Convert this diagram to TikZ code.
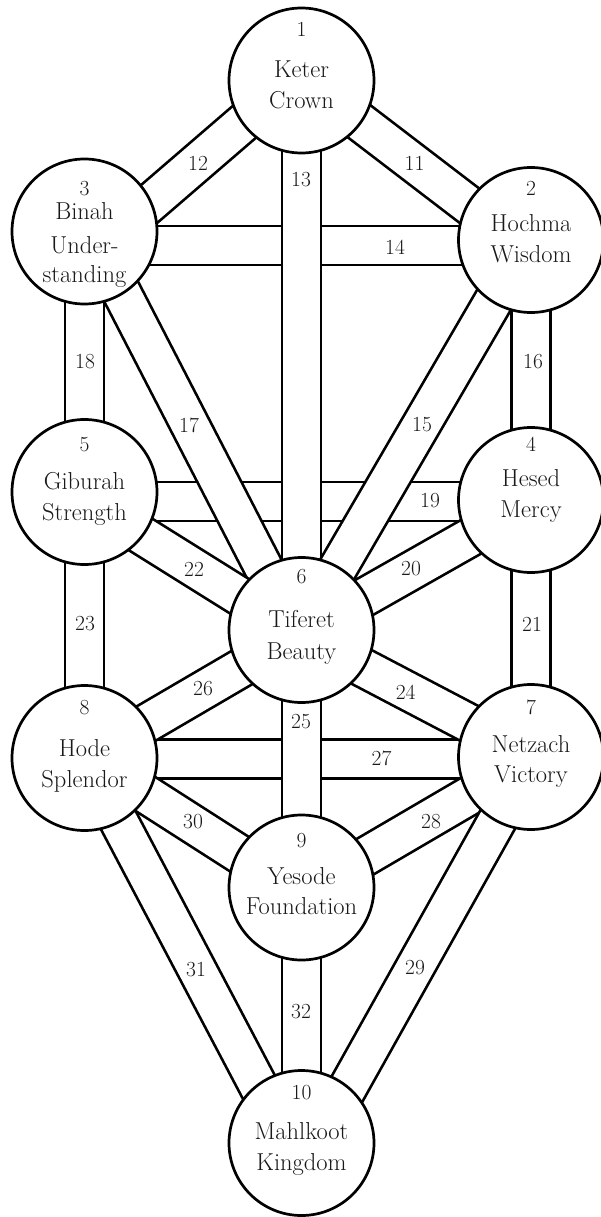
\documentclass[tikz,border=0pt]{standalone}
\usepackage{fontspec}
\usetikzlibrary{calc}
\pgfdeclarelayer{paths}
\pgfsetlayers{paths,main}

% one channel: from a sefira centre (shifted vertically) to another
\newcommand\channelline[4]{%
  \draw[channel] ($(#1.center)+(0,#2)$) -- ($(#3.center)+(0,#4)$);}

\begin{document}
\begin{tikzpicture}[x=1pt,y=-1pt,
  sefira/.style={circle, draw=black, fill=white, line width=2.7pt,
    minimum size=145pt, inner sep=0pt},
  channel/.style={draw=black, line width=2.7pt, double=white,
    double distance=36.4pt},
  nm/.style={font=\fontsize{24.5}{28}\selectfont, anchor=base,
    inner sep=0pt, text=black!90},
  num/.style={font=\fontsize{21.5}{24}\selectfont, anchor=base,
    inner sep=0pt, text=black!90},
  pathnum/.style={font=\fontsize{21.5}{24}\selectfont, inner sep=0pt,
    text=black!90}]
\useasboundingbox (0,0) rectangle (600,1217);

% the ten sefirot
\node[sefira] (keter)    at (301.5,80.5)  {};
\node[sefira] (hochma)   at (531,240)     {};
\node[sefira] (binah)    at (84.5,231.5)  {};
\node[sefira] (hesed)    at (531,500)     {};
\node[sefira] (giburah)  at (84.5,492)    {};
\node[sefira] (tiferet)  at (301.5,630)   {};
\node[sefira] (netzach)  at (531,757)     {};
\node[sefira] (hode)     at (84.5,758)    {};
\node[sefira] (yesode)   at (301.5,887.5) {};
\node[sefira] (mahlkoot) at (301.5,1143)  {};

\begin{pgfonlayer}{paths}
\fill[white] (0,0) rectangle (600,1217);
% horizontal channels first, the crossing ones pass over them
\channelline{binah}{14}{hochma}{5.5}       % 14
\channelline{giburah}{9.5}{hesed}{1.5}     % 19
\channelline{hode}{1}{netzach}{2}          % 27
% the other channels
\channelline{keter}{-3.3}{hochma}{12.8}    % 11
\channelline{keter}{-7.9}{binah}{28.2}     % 12
\channelline{keter}{0}{tiferet}{0}         % 13
\channelline{hochma}{-3.7}{tiferet}{0.7}   % 15
\channelline{hochma}{0}{hesed}{0}          % 16
\channelline{binah}{-11}{tiferet}{11.2}    % 17
\channelline{binah}{0}{giburah}{0}         % 18
\channelline{hesed}{2.8}{tiferet}{3}       % 20
\channelline{hesed}{0}{netzach}{0}         % 21
\channelline{giburah}{7.4}{tiferet}{5}     % 22
\channelline{giburah}{0}{hode}{0}          % 23
\channelline{netzach}{-1.3}{tiferet}{5.4}  % 24
\channelline{tiferet}{0}{yesode}{0}        % 25
\channelline{hode}{1.6}{tiferet}{2.7}      % 26
\channelline{netzach}{2.6}{yesode}{6.4}    % 28
\channelline{netzach}{3}{mahlkoot}{27.4}   % 29
\channelline{hode}{-3.1}{yesode}{6.4}      % 30
\channelline{hode}{-2}{mahlkoot}{25}       % 31
\channelline{yesode}{0}{mahlkoot}{0}       % 32
\end{pgfonlayer}

% names and numbers of the sefirot
\node[num] (keter-n) at ($(keter.center)+(0,-43.8)$) {1};
\node[nm]  (keter-a) at ($(keter.center)+(0,-3.2)$)  {Keter};
\node[nm]  (keter-b) at ($(keter.center)+(0,27.8)$)  {Crown};

\node[num] (hochma-n) at ($(hochma.center)+(0,-45)$) {2};
\node[nm]  (hochma-a) at ($(hochma.center)+(0,-8.3)$) {Hochma};
\node[nm]  (hochma-b) at ($(hochma.center)+(0,22.7)$) {Wisdom};

\node[num] (binah-n) at ($(binah.center)+(0,-36.5)$) {3};
\node[nm]  (binah-a) at ($(binah.center)+(0,-12.2)$) {Binah};
\node[nm]  (binah-b) at ($(binah.center)+(0,21.8)$)  {Under-};
\node[nm]  (binah-c) at ($(binah.center)+(0,51.2)$)  {standing};

\node[num] (hesed-n) at ($(hesed.center)+(0,-48.3)$) {4};
\node[nm]  (hesed-a) at ($(hesed.center)+(0,-14)$)   {Hesed};
\node[nm]  (hesed-b) at ($(hesed.center)+(0,17.3)$)  {Mercy};

\node[num] (giburah-n) at ($(giburah.center)+(0,-40.3)$) {5};
\node[nm]  (giburah-a) at ($(giburah.center)+(0,-2.7)$)  {Giburah};
\node[nm]  (giburah-b) at ($(giburah.center)+(0,28.7)$)  {Strength};

\node[num] (tiferet-n) at ($(tiferet.center)+(0,-46.7)$) {6};
\node[nm]  (tiferet-a) at ($(tiferet.center)+(0,-2.7)$)  {Tiferet};
\node[nm]  (tiferet-b) at ($(tiferet.center)+(0,29.3)$)  {Beauty};

\node[num] (netzach-n) at ($(netzach.center)+(0,-42.7)$) {7};
\node[nm]  (netzach-a) at ($(netzach.center)+(0,-4.3)$)  {Netzach};
\node[nm]  (netzach-b) at ($(netzach.center)+(0,25.7)$)  {Victory};

\node[num] (hode-n) at ($(hode.center)+(0,-44)$)  {8};
\node[nm]  (hode-a) at ($(hode.center)+(0,-2)$)   {Hode};
\node[nm]  (hode-b) at ($(hode.center)+(0,29.7)$) {Splendor};

\node[num] (yesode-n) at ($(yesode.center)+(0,-40.2)$) {9};
\node[nm]  (yesode-a) at ($(yesode.center)+(0,-3.5)$)  {Yesode};
\node[nm]  (yesode-b) at ($(yesode.center)+(0,26.5)$)  {Foundation};

\node[num] (mahlkoot-n) at ($(mahlkoot.center)+(0,-43.7)$) {10};
\node[nm]  (mahlkoot-a) at ($(mahlkoot.center)+(0,-3.7)$)  {Mahlkoot};
\node[nm]  (mahlkoot-b) at ($(mahlkoot.center)+(0,27.7)$)  {Kingdom};

% numbers of the paths
\node[pathnum] (p11) at (414.5,163) {11};
\node[pathnum] (p12) at (198,163)   {12};
\node[pathnum] (p13) at (301,180)   {13};
\node[pathnum] (p14) at (395,247)   {14};
\node[pathnum] (p15) at (422,425)   {15};
\node[pathnum] (p16) at (533,362)   {16};
\node[pathnum] (p17) at (189,425)   {17};
\node[pathnum] (p18) at (85,362)    {18};
\node[pathnum] (p19) at (430,501)   {19};
\node[pathnum] (p20) at (411,569)   {20};
\node[pathnum] (p21) at (532,624)   {21};
\node[pathnum] (p22) at (194,569)   {22};
\node[pathnum] (p23) at (85,624)    {23};
\node[pathnum] (p24) at (405.7,692) {24};
\node[pathnum] (p25) at (301,722)   {25};
\node[pathnum] (p26) at (203,689)   {26};
\node[pathnum] (p27) at (381.5,758) {27};
\node[pathnum] (p28) at (431,822)   {28};
\node[pathnum] (p29) at (415,968)   {29};
\node[pathnum] (p30) at (193,822)   {30};
\node[pathnum] (p31) at (196,970)   {31};
\node[pathnum] (p32) at (301,1012)  {32};
\end{tikzpicture}
\end{document}
